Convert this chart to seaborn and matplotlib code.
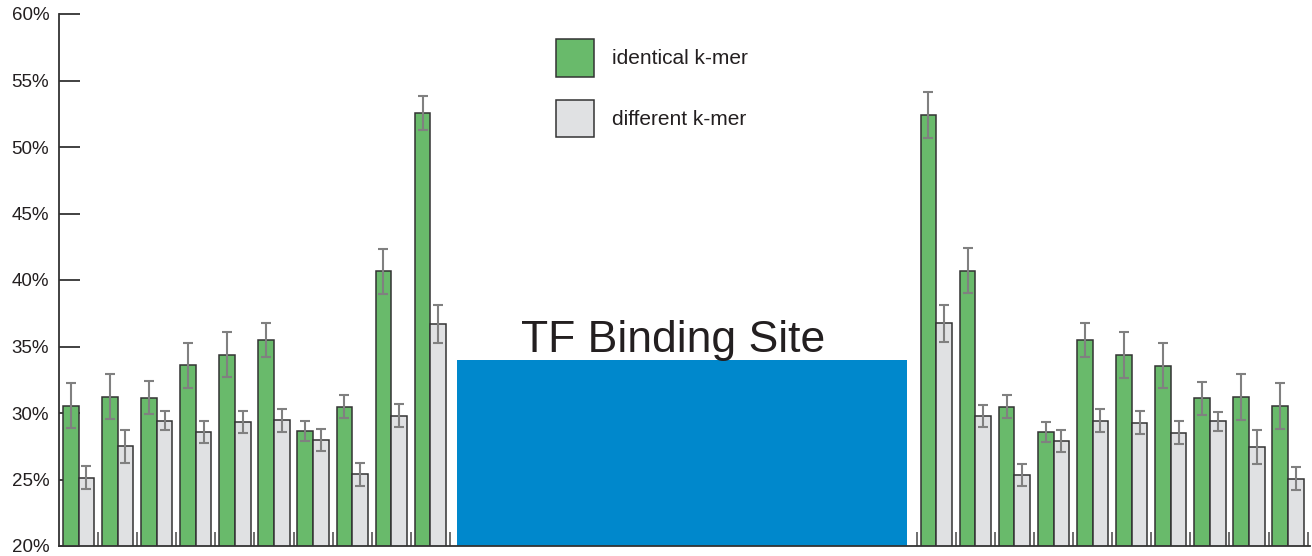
import numpy as np
import pandas as pd
import matplotlib
matplotlib.use("Agg")
import matplotlib.pyplot as plt
from matplotlib.patches import Rectangle
from matplotlib.ticker import PercentFormatter, NullLocator
import seaborn as sns

# values (percent)
left_identical = [30.56, 31.22, 31.14, 33.6, 34.38, 35.49, 28.62, 30.48, 40.66, 52.57]
left_identical_err = [1.7, 1.7, 1.25, 1.7, 1.7, 1.25, 0.75, 0.85, 1.7, 1.27]
left_different = [25.13, 27.5, 29.42, 28.57, 29.31, 29.44, 27.96, 25.38, 29.79, 36.7]
left_different_err = [0.85, 1.25, 0.7, 0.85, 0.85, 0.85, 0.85, 0.85, 0.85, 1.4]

right_identical = [52.4, 40.7, 30.47, 28.59, 35.49, 34.36, 33.56, 31.1, 31.2, 30.53]
right_identical_err = [1.7, 1.7, 0.85, 0.75, 1.25, 1.7, 1.7, 1.25, 1.7, 1.7]
right_different = [36.74, 29.77, 25.34, 27.9, 29.42, 29.27, 28.52, 29.37, 27.47, 25.06]
right_different_err = [1.4, 0.85, 0.85, 0.85, 0.85, 0.85, 0.85, 0.7, 1.28, 0.85]

series_names = ["identical k-mer", "different k-mer"]
site_label = "TF Binding Site"
site_top = 34.0

GREEN = "#69BA6B"
GRAY = "#E0E1E3"
BLUE = "#0088CC"

sns.set_theme(style="white")
plt.rcParams["font.family"] = ["Liberation Sans", "DejaVu Sans"]

# group positions (layout only)
left_pos = np.arange(len(left_identical), dtype=float)
right_pos = 21.94 + np.arange(len(right_identical), dtype=float)
pos = np.concatenate([left_pos, right_pos])

identical = left_identical + right_identical
different = left_different + right_different
identical_err = left_identical_err + right_identical_err
different_err = left_different_err + right_different_err

df = pd.DataFrame({
    "pos": np.concatenate([pos, pos]),
    "value": identical + different,
    "kind": [series_names[0]] * len(pos) + [series_names[1]] * len(pos),
})

fig = plt.figure(figsize=(13.12, 5.56), dpi=100)
ax = fig.add_axes([59 / 1312, 10 / 556, (1310 - 59) / 1312, (546 - 14) / 556])

sns.barplot(data=df, x="pos", y="value", hue="kind", native_scale=True,
            palette=[GREEN, GRAY], saturation=1, edgecolor="#333333",
            linewidth=1.1, errorbar=None, width=0.8, ax=ax, zorder=2)

ax.errorbar(pos - 0.2, identical, yerr=identical_err, fmt="none",
            ecolor="#808080", elinewidth=1.5, capsize=3.3, capthick=1.5, zorder=3)
ax.errorbar(pos + 0.2, different, yerr=different_err, fmt="none",
            ecolor="#808080", elinewidth=1.5, capsize=3.3, capthick=1.5, zorder=3)

# binding site block
ax.add_patch(Rectangle((9.68, 0), 21.19 - 9.68, site_top, facecolor=BLUE,
                       edgecolor="none", zorder=1))
ax.text(15.2, site_top + 0.6, site_label, fontsize=32, color="#231F20",
        ha="center", va="baseline", zorder=4)

ax.set_xlim(-0.5, 31.5)
ax.set_ylim(20, 60)
ax.set_yticks(range(20, 61, 5))
ax.yaxis.set_major_formatter(PercentFormatter(decimals=0))
ax.tick_params(axis="y", direction="in", length=15, width=1.3, color="#333333",
               labelsize=13.5, labelcolor="#231F20", pad=7, left=True)

xt = np.concatenate([left_pos + 0.5, right_pos - 0.5, [right_pos[-1] + 0.5]])
ax.set_xticks(xt)
ax.set_xticklabels([])
ax.xaxis.set_minor_locator(NullLocator())
ax.tick_params(axis="x", direction="in", length=10, width=1.2, color="#555555",
               bottom=True)
ax.set_xlabel("")
ax.set_ylabel("")

sns.despine(ax=ax)
for s in ["left", "bottom"]:
    ax.spines[s].set_color("#333333")
    ax.spines[s].set_linewidth(1.3)

handles, labels = ax.get_legend_handles_labels()
ax.legend(handles, labels, loc="upper left", bbox_to_anchor=(0.397, 0.953),
          frameon=False, fontsize=15, handlelength=1.83, handleheight=2.4,
          labelspacing=1.1, handletextpad=0.87, borderpad=0, borderaxespad=0,
          labelcolor="#231F20")

fig.savefig("out.png", dpi=100)
plt.close(fig)
